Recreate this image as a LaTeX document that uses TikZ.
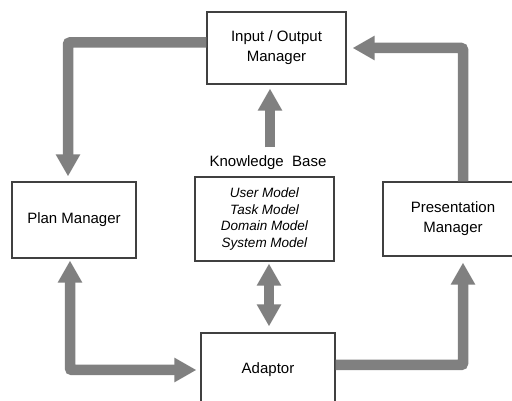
\documentclass[tikz,border=0pt]{standalone}
\usepackage{fontspec}
\setmainfont{Liberation Sans}
\usepackage{tikz}
\usetikzlibrary{positioning,arrows.meta}
\usepackage{xcolor}

\begin{document}
\begin{tikzpicture}[x=1pt,y=1pt,
  box/.style={draw=black!75,line width=1.2pt,fill=white,align=center,inner sep=0pt,
    font=\fontsize{15}{20}\selectfont},
  flow/.style={draw=gray,line width=10.5pt,rounded corners=2pt,
    -{Triangle[length=22pt,width=23pt]}},
  dflow/.style={flow,{Triangle[length=22pt,width=23pt]}-{Triangle[length=22pt,width=23pt]}}]
\useasboundingbox (0,0) rectangle (512,401);
\node[box,minimum width=139pt,minimum height=72pt] (io) at (276.5,353) {Input / Output\\Manager};
\node[box,minimum width=124pt,minimum height=76pt] (plan) at (74,181) {Plan Manager};
\node[box,minimum width=139pt,minimum height=84pt,font=\fontsize{13.5}{16.5}\selectfont\itshape] (kb) at (264.5,182)
  {User Model\\Task Model\\Domain Model\\System Model};
\node[font=\fontsize{15}{18}\selectfont] (kblabel) at (268,238) {Knowledge\ \ Base};
\node[box,minimum width=140pt,minimum height=74pt] (pres) at (453,182) {Presentation\\Manager};
\node[box,minimum width=134pt,minimum height=74pt] (adaptor) at (268,31) {Adaptor};
\draw[flow,shorten >=5pt] ([yshift=5.5pt]io.west) -| ([xshift=-6pt]plan.north);
\draw[flow,shorten >=6pt] ([xshift=10pt]pres.north) |- (io.east);
\draw[flow,shorten <=5pt,shorten >=4pt] ([xshift=2pt]kblabel.north) -- ([xshift=2pt]kblabel.north |- io.south);
\draw[dflow,shorten <=2pt,shorten >=6pt] ([xshift=4.5pt]kb.south) -- ([xshift=4.5pt]kb.south |- adaptor.north);
\draw[dflow,shorten <=2pt,shorten >=4pt] ([xshift=-4pt]plan.south) |- (adaptor.west);
\draw[flow,shorten >=6pt] ([yshift=5pt]adaptor.east) -| ([xshift=10pt]pres.south);
\end{tikzpicture}
\end{document}
